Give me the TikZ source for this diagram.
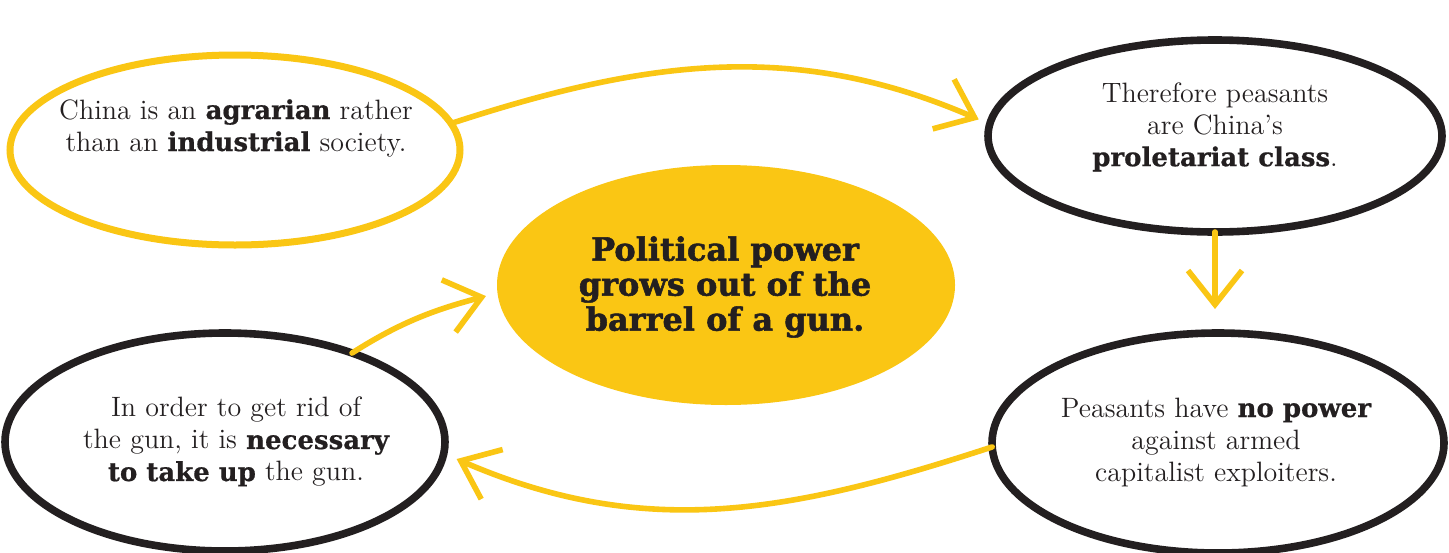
\documentclass[tikz,border=0pt]{standalone}
\usepackage{fontspec}
\newfontfamily\dvs{DejaVu Serif}
\newfontfamily\dvsheavy{DejaVu Serif Bold}[FakeBold=1.6]
\newfontfamily\dvsbold{DejaVu Serif Bold}[FakeBold=0.6]
\newcommand\myb[1]{{\dvsbold\fontsize{13}{16}\selectfont #1}}
\usetikzlibrary{shapes.geometric,arrows.meta}
\definecolor{gold}{RGB}{250,198,20}
\definecolor{ink}{RGB}{35,31,32}
\begin{document}
\begin{tikzpicture}[x=0.5pt,y=-0.5pt,
  bubble/.style={ellipse, draw=ink, line width=3.8pt, inner sep=0pt, outer sep=0pt},
  ybubble/.style={bubble, draw=gold, line width=3.5pt},
  core/.style={ellipse, fill=gold, draw=none, inner sep=0pt, outer sep=0pt},
  txt/.style={align=center, font=\fontsize{14}{16}\selectfont, text=ink, inner sep=0pt},
  ctxt/.style={align=center, font=\dvsheavy\fontsize{16}{17.5}\selectfont, text=ink, inner sep=0pt},
  flow/.style={draw=gold, line width=2.8pt, line cap=round,
    -{Straight Barb[length=17pt,width=27pt,line width=2.8pt]}}]
\path[use as bounding box, fill=white] (0,0) rectangle (1449,552);

% bubbles
\node[ybubble, minimum width=225pt, minimum height=95pt] (tl) at (235,150) {};
\node[bubble, minimum width=227pt, minimum height=96pt] (tr) at (1215,136) {};
\node[core, minimum width=229pt, minimum height=120pt] (ctr) at (726,285) {};
\node[bubble, minimum width=220pt, minimum height=109pt] (bl) at (225,442) {};
\node[bubble, minimum width=226pt, minimum height=110pt] (br) at (1218,443) {};

% texts
\node[txt] (tlt) at (236,128) {China is an \myb{agrarian} rather\\than an \myb{industrial} society.};
\node[txt] (trt) at (1215,127) {Therefore peasants\\are China's\\\myb{proletariat class}.};
\node[ctxt] (ctrt) at (725,287) {Political power\\grows out of the\\barrel of a gun.};
\node[txt] (blt) at (236,442) {In order to get rid of\\the gun, it is \myb{necessary}\\\myb{to take up} the gun.};
\node[txt] (brt) at (1216,442) {Peasants have \myb{no power}\\against armed\\capitalist exploiters.};

% connectors
\draw[flow, shorten >=6pt] (tl.7) .. controls +(193,-63) and +(-196,-85) .. (tr.177);
\draw[flow, shorten >=12pt] (tr.south) -- (tr.south |- br.north);
\draw[flow, shorten >=7pt] (br.181) .. controls +(-199,65) and +(203,88) .. (bl.-3);
\draw[flow, shorten >=6pt] (bl.35) .. controls +(50,-32) and +(-60,16) .. (ctr.182);
\end{tikzpicture}
\end{document}
